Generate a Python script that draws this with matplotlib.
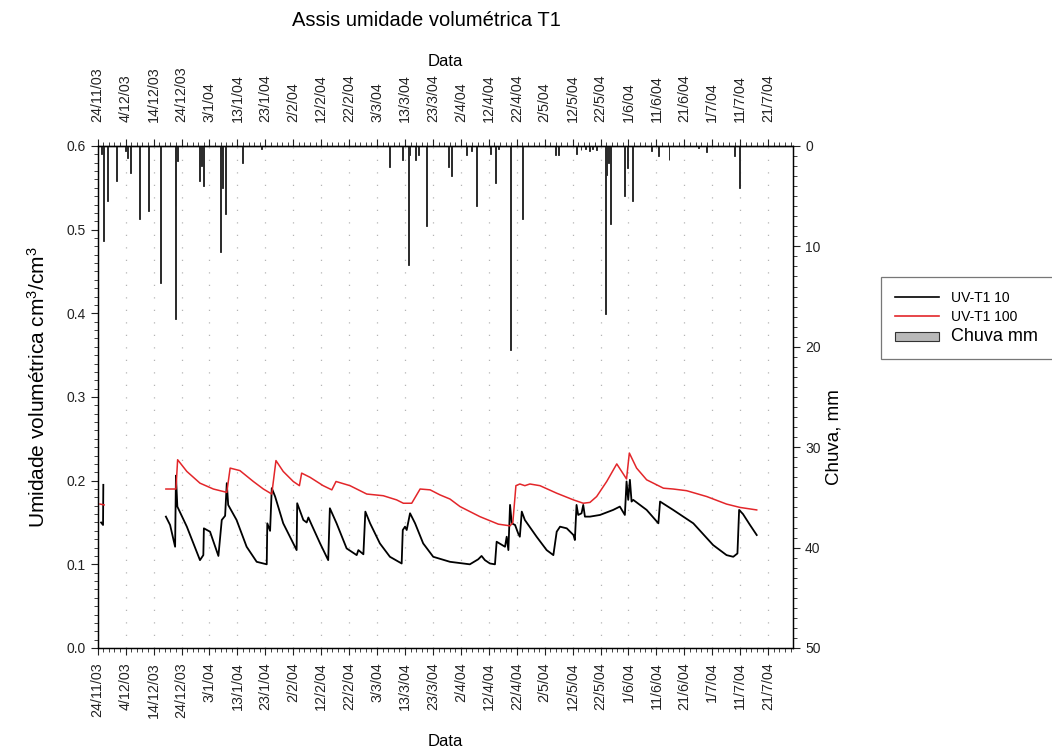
import numpy as np
import pandas as pd
import matplotlib
matplotlib.use("Agg")
import matplotlib.pyplot as plt
import matplotlib.dates as mdates
from matplotlib.lines import Line2D
from matplotlib.patches import Patch
from matplotlib.ticker import MultipleLocator, FormatStrFormatter

plt.rcParams["font.family"] = ["Liberation Sans", "DejaVu Sans"]
plt.rcParams["mathtext.fontset"] = "custom"
plt.rcParams["mathtext.rm"] = "Liberation Sans"
plt.rcParams["mathtext.it"] = "Liberation Sans:italic"

# ---- data ---------------------------------------------------------------
inicio = pd.Timestamp("2003-11-24")

tick_labels = ["24/11/03", "4/12/03", "14/12/03", "24/12/03", "3/1/04", "13/1/04",
               "23/1/04", "2/2/04", "12/2/04", "22/2/04", "3/3/04", "13/3/04",
               "23/3/04", "2/4/04", "12/4/04", "22/4/04", "2/5/04", "12/5/04",
               "22/5/04", "1/6/04", "11/6/04", "21/6/04", "1/7/04", "11/7/04",
               "21/7/04"]

# UV-T1 10 (days since 24/11/03, cm3/cm3); NaN marks a gap in the record
uv10_dias = [1.2, 1.9, 2.0, 2.1,
             24.4, 25.9, 27.7, 28.0, 28.5, 31.9, 36.6, 37.8, 38.0, 40.2, 43.2, 44.4,
             45.6, 46.2, 46.7, 49.7, 53.3, 56.9, 60.5, 60.7, 61.7, 62.3, 63.5, 66.4,
             71.2, 71.4, 73.6, 74.8, 75.4, 76.6, 79.6, 82.5, 83.1, 85.5, 89.1, 92.7,
             93.3, 95.1, 95.8, 97.5, 101.0, 104.6, 108.8, 109.2, 110.0, 110.6, 111.8,
             113.6, 116.5, 120.1, 126.1, 133.2, 136.2, 137.4, 138.6, 140.4, 142.2,
             142.8, 145.8, 146.4, 147.0, 147.6, 148.2, 149.4, 150.5, 151.1, 151.8,
             152.9, 157.1, 160.7, 163.1, 164.3, 165.5, 167.9, 170.3, 170.8, 171.4,
             172.0, 173.2, 173.8, 174.4, 176.2, 179.8, 184.5, 186.9, 188.7, 189.3,
             189.9, 190.5, 191.1, 191.7, 196.5, 200.7, 201.3, 206.0, 213.2, 220.3,
             225.1, 227.5, 229.0, 229.6, 231.0, 233.5, 235.9]
uv10_vals = [0.150, 0.147, 0.195, np.nan,
             0.157, 0.147, 0.121, 0.206, 0.169, 0.145, 0.105, 0.111, 0.143, 0.139, 0.110, 0.153,
             0.158, 0.197, 0.171, 0.153, 0.121, 0.103, 0.100, 0.149, 0.140, 0.191, 0.181, 0.149,
             0.117, 0.173, 0.153, 0.150, 0.156, 0.147, 0.125, 0.105, 0.167, 0.149, 0.119, 0.111,
             0.117, 0.112, 0.163, 0.149, 0.125, 0.109, 0.101, 0.141, 0.145, 0.141, 0.161,
             0.149, 0.125, 0.109, 0.103, 0.100, 0.106, 0.110, 0.105, 0.101, 0.100,
             0.127, 0.121, 0.133, 0.117, 0.171, 0.149, 0.147, 0.137, 0.133, 0.163,
             0.153, 0.133, 0.117, 0.111, 0.139, 0.145, 0.143, 0.135, 0.129, 0.171,
             0.159, 0.161, 0.171, 0.157, 0.157, 0.159, 0.165, 0.169, 0.159, 0.199,
             0.177, 0.201, 0.175, 0.177, 0.165, 0.149, 0.175, 0.165, 0.149, 0.123,
             0.111, 0.109, 0.113, 0.165, 0.160, 0.147, 0.135]

# UV-T1 100
uv100_dias = [0.8, 2.3, 2.4,
              24.4, 28.0, 28.6, 31.9, 36.6, 41.4, 46.2, 47.4, 50.9, 55.7, 59.3, 62.3,
              63.8, 66.4, 70.0, 72.2, 73.0, 76.0, 80.7, 83.8, 85.3, 90.3, 96.3, 102.2,
              107.0, 109.4, 112.4, 115.4, 119.0, 122.5, 126.1, 129.7, 136.8, 143.4,
              147.6, 148.6, 149.7, 151.1, 152.9, 154.7, 158.3, 164.3, 170.3, 173.8,
              176.2, 178.6, 182.2, 185.8, 189.3, 190.3, 192.9, 196.5, 202.5, 206.0,
              210.8, 218.0, 225.1, 229.9, 235.9]
uv100_vals = [0.172, 0.171, np.nan,
              0.190, 0.190, 0.225, 0.211, 0.197, 0.190, 0.186, 0.215, 0.212, 0.199, 0.190, 0.184,
              0.224, 0.211, 0.199, 0.194, 0.209, 0.204, 0.194, 0.189, 0.199, 0.194, 0.184, 0.182,
              0.177, 0.173, 0.173, 0.190, 0.189, 0.183, 0.178, 0.169, 0.157, 0.148,
              0.146, 0.150, 0.194, 0.196, 0.194, 0.196, 0.194, 0.185, 0.177, 0.173,
              0.174, 0.181, 0.199, 0.220, 0.202, 0.233, 0.215, 0.201, 0.191, 0.190,
              0.188, 0.181, 0.172, 0.168, 0.165]

# Rainfall events (days since 24/11/03, mm)
chuva_dias = [1.2, 2.0, 3.4, 6.8, 10.1, 10.7, 11.6, 15.1, 18.3, 22.5, 27.7, 28.0, 28.4,
              36.6, 37.2, 37.8, 43.9, 44.3, 44.6, 45.8, 51.7, 58.7, 104.6, 109.2, 111.2,
              111.5, 113.6, 115.0, 117.7, 125.6, 126.7, 132.0, 133.8, 135.6, 140.6, 142.4,
              143.6, 147.9, 151.9, 163.7, 164.9, 171.4, 173.0, 174.5, 176.0, 177.0, 178.5,
              181.6, 182.2, 182.8, 183.7, 188.7, 189.5, 191.5, 198.3, 200.9, 204.5, 214.9,
              218.0, 227.8, 229.6]
chuva_mm = [0.8, 9.5, 5.5, 3.5, 0.5, 1.2, 2.7, 7.3, 6.5, 13.6, 17.2, 6.0, 1.5,
            3.5, 2.0, 4.0, 10.6, 1.0, 4.2, 6.8, 1.7, 0.3, 2.1, 1.4, 11.9,
            0.9, 1.4, 0.9, 8.0, 2.1, 3.0, 0.9, 0.5, 6.0, 0.8, 3.7,
            0.3, 20.3, 7.3, 0.9, 0.9, 0.8, 0.4, 0.3, 0.5, 0.3, 0.4,
            16.7, 2.9, 1.7, 7.8, 5.0, 2.2, 5.5, 0.5, 1.0, 1.4, 0.2,
            0.6, 1.0, 4.2]


def to_dates(dias):
    return inicio + pd.to_timedelta(np.asarray(dias, dtype=float), unit="D")


# ---- figure -------------------------------------------------------------
fig = plt.figure(figsize=(10.52, 7.54), dpi=100)
ax = fig.add_axes([0.0929, 0.1406, 0.6612, 0.6658])
ax2 = ax.twinx()

ax.plot(to_dates(uv10_dias), uv10_vals, color="black", lw=1.3, zorder=3)
ax.plot(to_dates(uv100_dias), uv100_vals, color="#e3262a", lw=1.1, zorder=3)

ax2.bar(to_dates(chuva_dias), chuva_mm, width=0.35, align="center",
        color="#8c8c8c", edgecolor="#2a2a2a", linewidth=0.7, zorder=2)

# x axis (dates) on bottom and top
tick_dates = pd.to_datetime(tick_labels, format="%d/%m/%y")
minor_dates = inicio + pd.to_timedelta(np.arange(0, 250, 2), unit="D")
ax.set_xlim(inicio, inicio + pd.Timedelta(days=249))
ax.set_xticks(tick_dates)
ax.set_xticklabels(tick_labels, rotation=90)
ax.set_xticks(minor_dates, minor=True)
ax.set_xlabel("Data", fontsize=12, labelpad=12)

sec = ax.secondary_xaxis("top")
sec.set_xticks(mdates.date2num(tick_dates))
sec.set_xticklabels(tick_labels, rotation=90)
sec.set_xticks(mdates.date2num(minor_dates), minor=True)
sec.set_xlabel("Data", fontsize=12, labelpad=0)

# left: soil moisture
ax.set_ylim(0.0, 0.6)
ax.yaxis.set_major_locator(MultipleLocator(0.1))
ax.yaxis.set_minor_locator(MultipleLocator(0.01))
ax.yaxis.set_major_formatter(FormatStrFormatter("%.1f"))
ax.set_ylabel("Umidade volumétrica cm$^3$/cm$^3$", fontsize=15)
ax.yaxis.set_label_coords(-0.071, 0.52)

# right: rainfall, inverted
ax2.set_ylim(50, 0)
ax2.yaxis.set_major_locator(MultipleLocator(10))
ax2.yaxis.set_minor_locator(MultipleLocator(1))
ax2.set_ylabel("Chuva, mm", fontsize=13.5)
ax2.yaxis.set_label_coords(1.046, 0.42)

for a in (ax, ax2, sec):
    a.tick_params(which="major", direction="out", length=5, width=0.8,
                  labelsize=10, colors="#222222")
    a.tick_params(which="minor", direction="out", length=3, width=0.6, colors="#222222")
ax.tick_params(axis="x", which="major", labelsize=10.3, pad=5)
sec.tick_params(axis="x", which="major", labelsize=10.3, pad=12.5)

for s in ax.spines.values():
    s.set_linewidth(0.9)
for s in ax2.spines.values():
    s.set_linewidth(0.9)
sec.spines["top"].set_linewidth(0.9)

ax.grid(axis="x", which="major", color="#b5b5b5", linestyle=(0, (1, 9)), linewidth=0.9)
ax.set_axisbelow(True)

fig.text(0.405, 0.985, "Assis umidade volumétrica T1", ha="center", va="top",
         fontsize=14.5)

handles = [Line2D([], [], color="black", lw=1.2),
           Line2D([], [], color="#e3262a", lw=1.2),
           Patch(facecolor="#b9b9b9", edgecolor="#333333", linewidth=0.8)]
leg = fig.legend(handles, ["UV-T1 10", "UV-T1 100", "Chuva mm"],
                 loc="upper left", bbox_to_anchor=(0.831, 0.532, 0.19, 0.11),
                 mode="expand", fontsize=10, frameon=True, fancybox=False,
                 edgecolor="#555555", handlelength=3.2, handletextpad=0.8,
                 borderpad=1.0, labelspacing=0.35)
leg.get_frame().set_linewidth(0.9)
leg.get_texts()[2].set_fontsize(13)

fig.savefig("out.png", dpi=100)
